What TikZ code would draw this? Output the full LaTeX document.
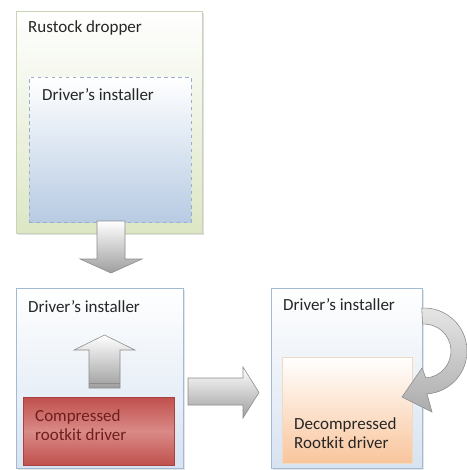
\documentclass[tikz,border=0pt]{standalone}
\usepackage{fontspec}
\setmainfont{Carlito}
\usetikzlibrary{positioning,shadows,calc}
\definecolor{dropline}{HTML}{C9D3B6}
\definecolor{dropgreen}{HTML}{DCE6C4}
\definecolor{dashline}{HTML}{9AAEC8}
\definecolor{dashblue}{HTML}{B7CBE3}
\definecolor{instline}{HTML}{A3BAD6}
\definecolor{instblue}{HTML}{D7E3F1}
\definecolor{redline}{HTML}{A8423F}
\definecolor{redfill}{HTML}{C0504D}
\definecolor{redlight}{HTML}{DA8A87}
\definecolor{redtext}{HTML}{6E1F1D}
\definecolor{orangeline}{HTML}{F1D9C2}
\definecolor{orangefill}{HTML}{F9C59C}
\definecolor{arrowline}{HTML}{8C8C8C}
\definecolor{arrowgray}{HTML}{9E9E9E}
\definecolor{txtgray}{HTML}{262626}
\tikzset{
  box/.style={ draw, rectangle, inner sep=0pt, anchor=north west }
}
\tikzset{
  dropbox/.style={ box, draw=dropline, top color=white, bottom color=dropgreen,
    drop shadow={shadow xshift=1.5pt, shadow yshift=-1.5pt, opacity=0.25} }
}
\tikzset{
  dashbox/.style={ box, dashed, draw=dashline, top color=white, bottom color=dashblue }
}
\tikzset{
  instbox/.style={ box, draw=instline, top color=white, bottom color=instblue,
    drop shadow={shadow xshift=1.2pt, shadow yshift=-1.2pt, opacity=0.2} }
}
\tikzset{
  redbox/.style={ box, draw=redline, top color=redfill, bottom color=redfill, middle color=redlight }
}
\tikzset{
  orangebox/.style={ box, draw=orangeline, top color=white, bottom color=orangefill }
}
\tikzset{
  lbl/.style={ anchor=west, inner sep=0pt, align=left, text=txtgray,
    font=\fontsize{14.5}{16.2}\selectfont }
}
\tikzset{
  blockarrow/.style={ draw=arrowline, line width=0.5pt, top color=white, bottom color=arrowgray }
}

\begin{document}
\begin{tikzpicture}[x=0.03cm, y=-0.03cm]
        \useasboundingbox[fill=white] (0,0) rectangle (466,470);
        % dropper
        \node[dropbox, minimum width=5.58cm, minimum height=6.66cm] (dropper) at (16,11) {};
        \node[dashbox, minimum width=4.86cm, minimum height=4.35cm] (inst0) at (29,77) {};
        \node[lbl] (dropperlbl) at (28,28) {Rustock dropper};
        \node[lbl] (inst0lbl) at (42,95) {Driver’s installer};
        \draw[blockarrow] (97,221) -- (125,221) -- (125,259) -- (142,259) -- (111,273)
          -- (80,259) -- (97,259) -- cycle;
        % installer with packed driver
        \node[instbox, minimum width=5.01cm, minimum height=5.40cm] (inst1) at (16,288) {};
        \node[lbl] (inst1lbl) at (28,307) {Driver’s installer};
        \draw[blockarrow] (89,388) -- (120,388) -- (120,350) -- (135,350) -- (104.5,335)
          -- (74,350) -- (89,350) -- cycle;
        \draw[arrowline] (89,383) -- (120,383);
        \node[redbox, minimum width=4.53cm, minimum height=2.04cm] (packed) at (23,397) {};
        \node[lbl, text=redtext] (packedlbl) at (35,425.5) {Compressed\\rootkit driver};
        \draw[blockarrow] (188,378) -- (243,378) -- (243,367) -- (259,392.5) -- (243,418)
          -- (243,405) -- (188,405) -- cycle;
        % installer with unpacked driver
        \node[instbox, minimum width=4.53cm, minimum height=5.40cm] (inst2) at (271,288) {};
        \node[lbl] (inst2lbl) at (283,305) {Driver’s installer};
        \node[orangebox, minimum width=3.90cm, minimum height=3.18cm] (unpacked) at (282,357) {};
        \node[lbl] (unpackedlbl) at (294,433.5) {Decompressed\\Rootkit driver};
        \draw[blockarrow, top color=gray!20, bottom color=gray!65]
          (424,351) ++(-93:43) arc[start angle=-93, end angle=86, radius=43]
          -- (432,412) -- (402,397) -- (422,368)
          -- ($(424,351)+(86:27)$) arc[start angle=86, end angle=-93, radius=27] -- cycle;
\end{tikzpicture}
\end{document}
